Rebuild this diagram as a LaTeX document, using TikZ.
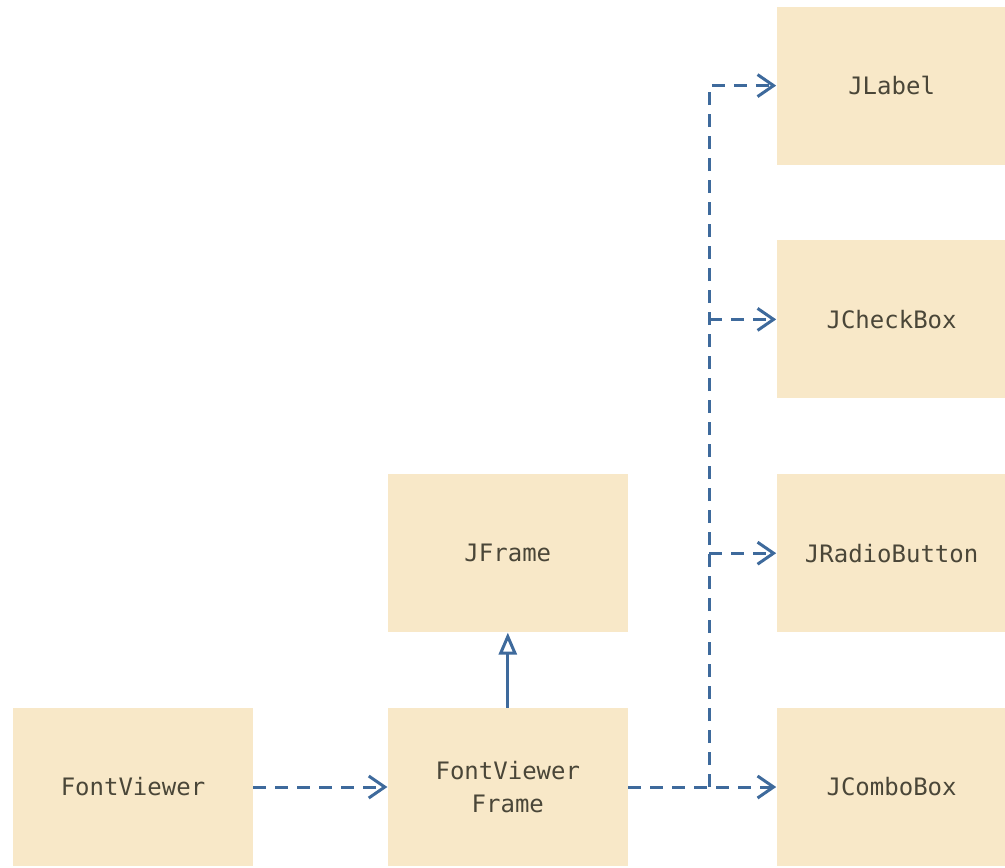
\documentclass[tikz,border=0pt]{standalone}
\usepackage{fontspec}
\setmonofont{DejaVu Sans Mono}
\usetikzlibrary{arrows.meta,positioning}
\definecolor{cbox}{HTML}{F8E8C8}
\definecolor{cline}{HTML}{3E6A9C}
\definecolor{ctext}{HTML}{4A4638}

\begin{document}
\begin{tikzpicture}[x=0.5pt,y=-0.5pt,
  font=\ttfamily\fontsize{12}{16.5}\selectfont,
  cls/.style={fill=cbox,text=ctext,minimum width=120pt,minimum height=79pt,
              inner sep=0pt,align=center},
  wide/.style={cls,minimum width=115pt},
  bus/.style={draw=cline,line width=1.5pt,dash pattern=on 6.5pt off 4.5pt},
  dep/.style={bus,-{Straight Barb[length=8pt,width=11pt,line width=1.5pt]}},
  ext/.style={draw=cline,line width=1.5pt,
              -{Triangle[open,length=11pt,width=9pt,fill=white,line width=1.5pt]}}]

  \useasboundingbox (0,0) rectangle (1005,867);

  \node[cls] (fv) at (133,787) {FontViewer};
  \node[cls,right=67pt of fv] (fvf) {FontViewer\\Frame};
  \node[cls,above=37.5pt of fvf] (jframe) {JFrame};

  \node[wide,right=74pt of fvf] (jcombo) {JComboBox};
  \node[wide,above=37.5pt of jcombo] (jradio) {JRadioButton};
  \node[wide,above=37.5pt of jradio] (jcheck) {JCheckBox};
  \node[wide,above=37.5pt of jcheck] (jlabel) {JLabel};

  \coordinate[right=40.5pt of fvf] (fork);

  \draw[dep] (fv) -- (fvf);
  \draw[ext] (fvf) -- (jframe);
  \draw[dep] (fvf) -- (jcombo);
  \draw[dep] (fork) |- (jlabel);
  \draw[dep] (fork|-jcheck) -- (jcheck);
  \draw[dep] (fork|-jradio) -- (jradio);
\end{tikzpicture}
\end{document}
